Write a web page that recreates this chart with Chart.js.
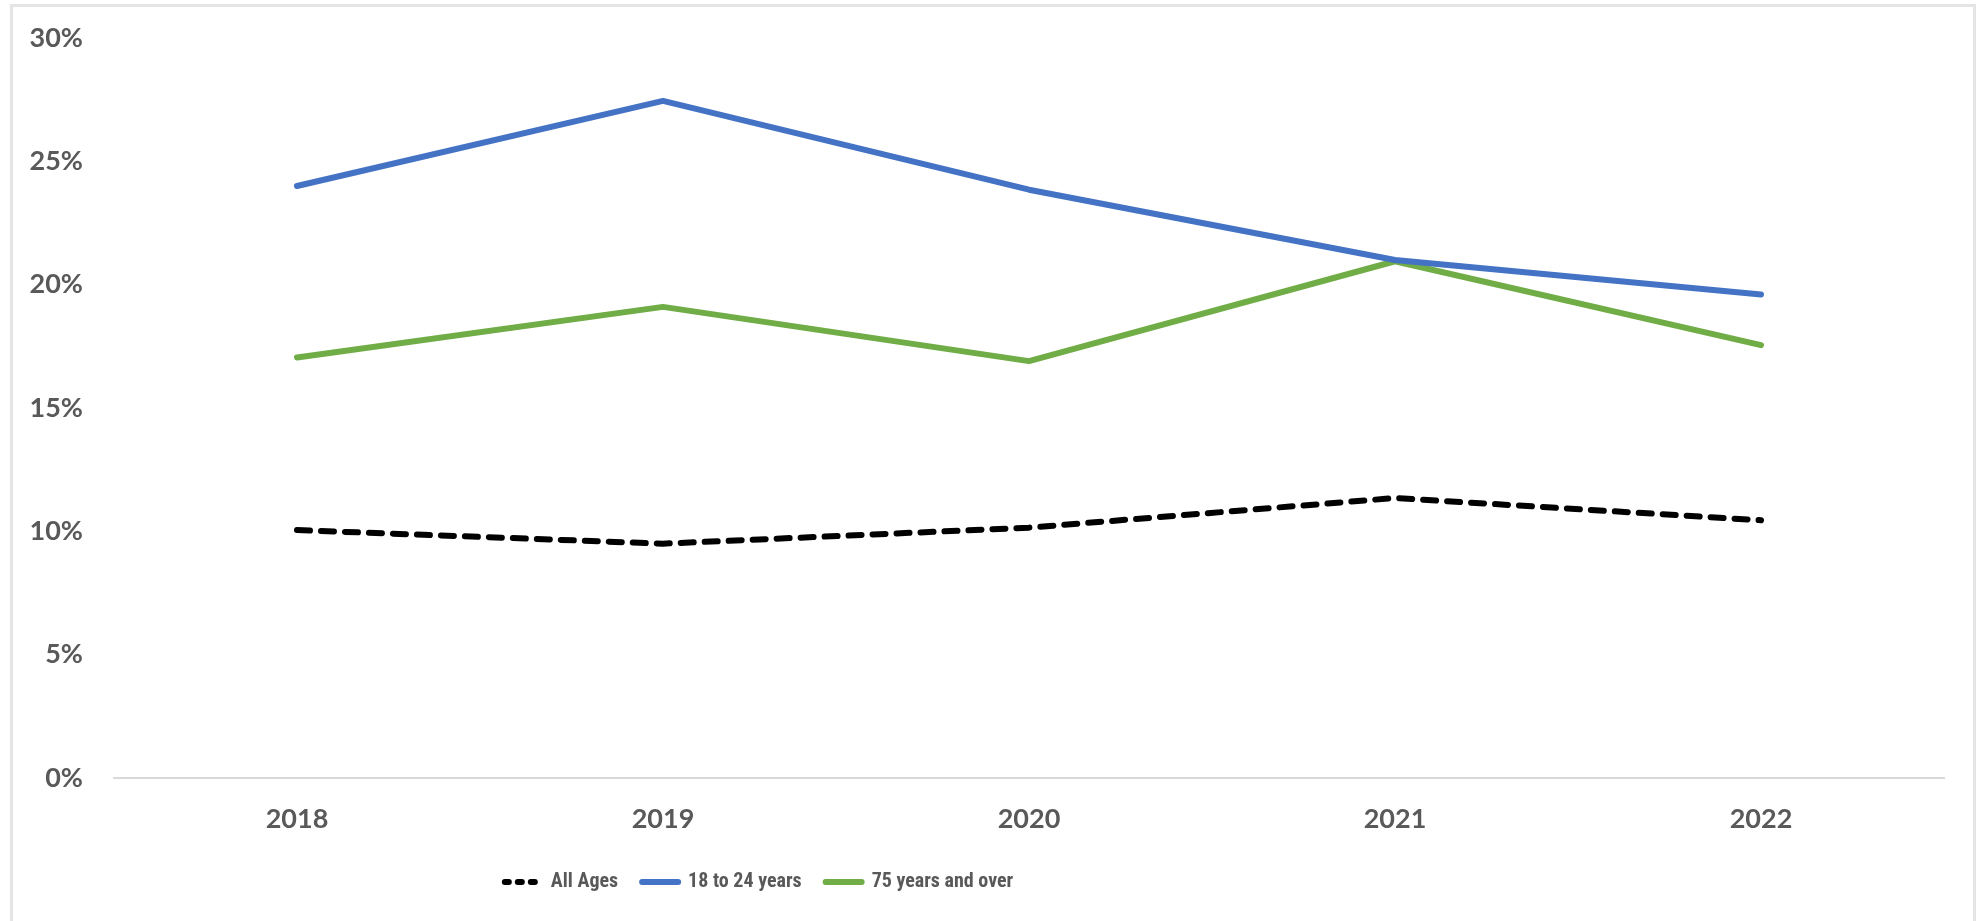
<!DOCTYPE html>
<html>
<head>
<meta charset="utf-8">
<script src="https://cdn.jsdelivr.net/npm/chart.js@4.4.1/dist/chart.umd.min.js"></script>
<style>
  html, body { margin: 0; padding: 0; background: #fff; overflow: hidden; }
  #frame { position: absolute; left: 10px; top: 4px; width: 1960px; height: 1000px; border: 3px solid #e4e4e4; }
  #myChart { position: absolute; left: 0; top: 0; }
</style>
</head>
<body>
<div id="frame"></div>
<canvas id="myChart" width="1984" height="921"></canvas>
<script>
// years on the x axis
const years = ["2018", "2019", "2020", "2021", "2022"];

// share of people, in percent
const allAges = [10.05, 9.5, 10.15, 11.35, 10.45];
const age18to24 = [24.0, 27.45, 23.85, 21.0, 19.6];
const age75plus = [17.05, 19.1, 16.9, 20.95, 17.55];

const seriesNames = ["All Ages", "18 to 24 years", "75 years and over"];
const yTicks = [0, 5, 10, 15, 20, 25, 30];

const grey = "#595959";
const axisFont = { family: "Lato, 'Open Sans', sans-serif", size: 27, weight: "bold" };
const legendFont = { family: "'Liberation Sans Narrow', 'Roboto Condensed', Lato, sans-serif", size: 20, weight: "bold" };

// moves the legend row so it sits left of centre
const legendShift = {
    id: "legendShift",
    afterLayout(chart) {
        const lg = chart.legend;
        lg.left = 0;
        lg.right = 1518;
        lg.width = 1518;
    }
};

var ctx = document.getElementById("myChart").getContext("2d");
var myChart = new Chart(ctx, {
    type: "line",
    data: {
        labels: years,
        datasets: [{
                label: seriesNames[0],
                data: allAges,
                borderColor: "#000000",
                backgroundColor: "#000000",
                borderDash: [13, 11],
            },
            {
                label: seriesNames[1],
                data: age18to24,
                borderColor: "#4472C4",
                backgroundColor: "#4472C4",
            },
            {
                label: seriesNames[2],
                data: age75plus,
                borderColor: "#70AD47",
                backgroundColor: "#70AD47",
            },
        ],
    },
    options: {
        responsive: false,
        animation: false,
        elements: {
            line: { borderWidth: 6, tension: 0, borderCapStyle: "round", borderJoinStyle: "round" },
            point: { radius: 0, hoverRadius: 0 }
        },
        layout: {
            padding: { left: 0, right: 40, top: 38, bottom: 19 }
        },
        scales: {
            x: {
                offset: true,
                grid: { display: false, drawTicks: false },
                border: { display: true, color: "#d9d9d9", width: 2 },
                ticks: { color: grey, font: axisFont, padding: 25, maxRotation: 0 },
                afterFit: (s) => { s.height = 70; }
            },
            y: {
                min: 0,
                max: 30,
                afterBuildTicks: (s) => { s.ticks = yTicks.map(v => ({ value: v })); },
                // hidden tick marks, used only to push the labels left
                grid: { display: false, drawTicks: true, tickLength: 21 },
                border: { display: false },
                ticks: {
                    color: grey,
                    font: axisFont,
                    padding: 10,
                    callback: (v) => v + "%"
                },
                afterFit: (s) => { s.width = 114; }
            }
        },
        plugins: {
            tooltip: { enabled: false },
            legend: {
                position: "bottom",
                align: "center",
                labels: {
                    color: grey,
                    font: legendFont,
                    padding: 24,
                    usePointStyle: true,
                    pointStyle: "line",
                    pointStyleWidth: 36,
                    generateLabels: (chart) => {
                        const items = Chart.defaults.plugins.legend.labels.generateLabels(chart);
                        items.forEach((it) => {
                            it.lineWidth = 6;
                            it.lineCap = "round";
                            // short dashes for the dashed series sample
                            it.lineDash = chart.data.datasets[it.datasetIndex].borderDash ? [4, 9] : [];
                        });
                        return items;
                    }
                }
            }
        }
    },
    plugins: [legendShift]
});
</script>
</body>
</html>
